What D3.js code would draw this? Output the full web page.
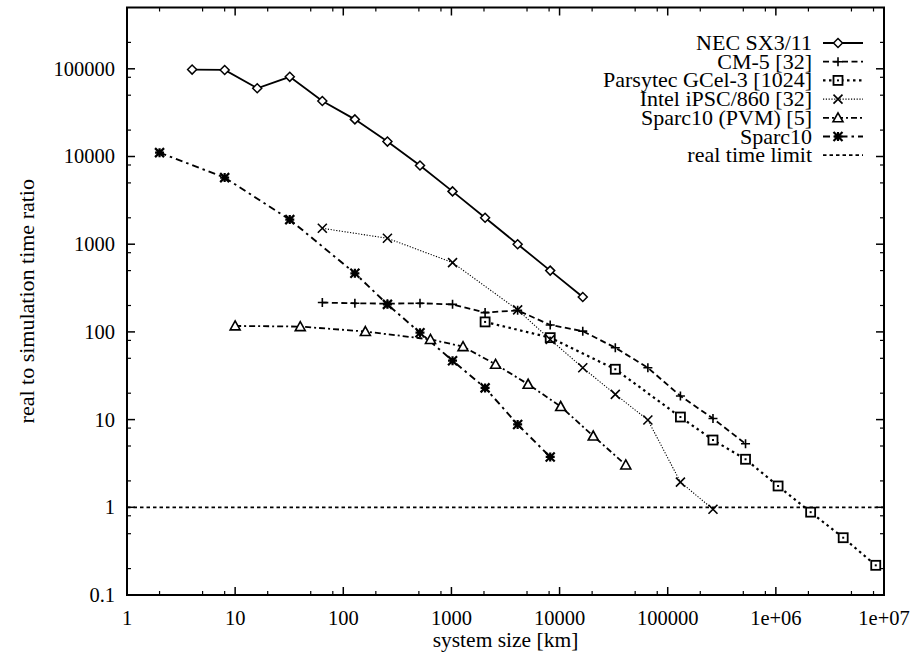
<!DOCTYPE html>
<html><head><meta charset="utf-8">
<script src="https://cdn.jsdelivr.net/npm/d3@7"></script>
<style>
html,body{margin:0;padding:0;background:#fff;}
svg text{font-family:"Liberation Serif","Times New Roman",serif;fill:#000;}
</style></head>
<body><svg id="chart" width="911" height="654"></svg>
<script>
// ---- data ----
const necX   = [4, 8, 16, 32, 64, 128, 256, 512, 1024, 2048, 4096, 8192, 16384];
const necY   = [98000, 97000, 60000, 81000, 43000, 26500, 14800, 7900, 4000, 2000, 1000, 500, 250];
const cm5X   = [64, 128, 256, 512, 1024, 2048, 4096, 8192, 16384, 32768, 65536, 131072, 262144, 524288];
const cm5Y   = [216, 212, 210, 212, 206, 166, 176, 120, 102, 66, 39, 18.6, 10.3, 5.3];
const parsX  = [2048, 8192, 32768, 131072, 262144, 524288, 1048576, 2097152, 4194304, 8388608];
const parsY  = [130, 86, 37.5, 10.7, 5.85, 3.53, 1.75, 0.88, 0.45, 0.218];
const intelX = [64, 256, 1024, 4096, 8192, 16384, 32768, 65536, 131072, 262144];
const intelY = [1518, 1168, 617, 178, 82, 39, 19.4, 9.9, 1.94, 0.95];
const pvmX   = [10, 40, 160, 640, 1280, 2560, 5120, 10240, 20480, 40960];
const pvmY   = [117, 115, 101, 82, 68, 42.7, 25.3, 14.1, 6.5, 3.04];
const sparcX = [2, 8, 32, 128, 256, 512, 1024, 2048, 4096, 8192];
const sparcY = [11070, 5745, 1907, 466, 206, 98, 47, 23, 8.8, 3.75];
const limitY = 1;
const seriesNames = ["NEC SX3/11", "CM-5 [32]", "Parsytec GCel-3 [1024]", "Intel iPSC/860 [32]", "Sparc10 (PVM) [5]", "Sparc10", "real time limit"];
const xTickVals = [1, 10, 100, 1000, 10000, 100000, 1e6, 1e7];
const xTickLabels = ["1", "10", "100", "1000", "10000", "100000", "1e+06", "1e+07"];
const yTickVals = [0.1, 1, 10, 100, 1000, 10000, 100000];
const yTickLabels = ["0.1", "1", "10", "100", "1000", "10000", "100000"];
const xDomain = [1, 1e7];
const yDomain = [0.1, 5e5];
const xLabel = "system size [km]";
const yLabel = "real to simulation time ratio";

// ---- layout ----
const L = 127, R = 884, T = 7.5, B = 595;
const svg = d3.select("#chart");
const x = d3.scaleLog().domain(xDomain).range([L, R]);
const y = d3.scaleLog().domain(yDomain).range([B, T]);

// minor ticks (visible ones in reference: 2,5,8 per decade)
const minorMult = [2, 5, 8];
function minors(dom) {
  const out = [];
  for (let e = Math.floor(Math.log10(dom[0])); e <= Math.ceil(Math.log10(dom[1])); e++) {
    for (const m of minorMult) {
      const v = m * Math.pow(10, e);
      if (v > dom[0] * 1.0001 && v < dom[1] * 0.9999) out.push(v);
    }
  }
  return out;
}
const g = svg.append("g");
const tickColor = "#000";
xTickVals.forEach(v => {
  g.append("line").attr("x1", x(v)).attr("x2", x(v)).attr("y1", B).attr("y2", B - 8).attr("stroke", tickColor).attr("stroke-width", 1.5);
  g.append("line").attr("x1", x(v)).attr("x2", x(v)).attr("y1", T).attr("y2", T + 8).attr("stroke", tickColor).attr("stroke-width", 1.5);
});
minors(xDomain).forEach(v => {
  g.append("line").attr("x1", x(v)).attr("x2", x(v)).attr("y1", B).attr("y2", B - 4).attr("stroke", tickColor).attr("stroke-width", 1.2);
  g.append("line").attr("x1", x(v)).attr("x2", x(v)).attr("y1", T).attr("y2", T + 4).attr("stroke", tickColor).attr("stroke-width", 1.2);
});
yTickVals.forEach(v => {
  g.append("line").attr("x1", L).attr("x2", L + 8).attr("y1", y(v)).attr("y2", y(v)).attr("stroke", tickColor).attr("stroke-width", 1.5);
  g.append("line").attr("x1", R).attr("x2", R - 8).attr("y1", y(v)).attr("y2", y(v)).attr("stroke", tickColor).attr("stroke-width", 1.5);
});
minors(yDomain).forEach(v => {
  g.append("line").attr("x1", L).attr("x2", L + 4).attr("y1", y(v)).attr("y2", y(v)).attr("stroke", tickColor).attr("stroke-width", 1.2);
  g.append("line").attr("x1", R).attr("x2", R - 4).attr("y1", y(v)).attr("y2", y(v)).attr("stroke", tickColor).attr("stroke-width", 1.2);
});
g.append("rect").attr("x", L).attr("y", T).attr("width", R - L).attr("height", B - T)
  .attr("fill", "none").attr("stroke", "#000").attr("stroke-width", 2);

// tick labels
xTickVals.forEach((v, i) => {
  g.append("text").attr("x", x(v)).attr("y", 625).attr("text-anchor", "middle")
    .attr("font-size", 20.5).text(xTickLabels[i]);
});
yTickVals.forEach((v, i) => {
  g.append("text").attr("x", 115).attr("y", y(v) + 7).attr("text-anchor", "end")
    .attr("font-size", 20.5).text(yTickLabels[i]);
});
// axis titles
g.append("text").attr("x", (L + R) / 2).attr("y", 647).attr("text-anchor", "middle")
  .attr("font-size", 21.5).text(xLabel);
g.append("text").attr("transform", `translate(34,${(T + B) / 2}) rotate(-90)`)
  .attr("text-anchor", "middle").attr("font-size", 22).text(yLabel);

// ---- markers ----
function drawMarker(sel, type, cx, cy) {
  const s = 4.5;
  if (type === "diamond") {
    sel.append("path").attr("d", `M${cx - s},${cy}L${cx},${cy - s}L${cx + s},${cy}L${cx},${cy + s}Z`)
      .attr("fill", "#fff").attr("stroke", "#000").attr("stroke-width", 1.5);
  } else if (type === "plus") {
    sel.append("path").attr("d", `M${cx - s},${cy}H${cx + s}M${cx},${cy - s}V${cy + s}`)
      .attr("stroke", "#000").attr("stroke-width", 1.6).attr("fill", "none");
  } else if (type === "square") {
    sel.append("rect").attr("x", cx - 4.5).attr("y", cy - 4.5).attr("width", 9).attr("height", 9)
      .attr("fill", "#fff").attr("stroke", "#000").attr("stroke-width", 1.8);
    sel.append("rect").attr("x", cx - 1).attr("y", cy - 1).attr("width", 2).attr("height", 2).attr("fill", "#000");
  } else if (type === "cross") {
    sel.append("path").attr("d", `M${cx - s},${cy - s}L${cx + s},${cy + s}M${cx - s},${cy + s}L${cx + s},${cy - s}`)
      .attr("stroke", "#000").attr("stroke-width", 1.6).attr("fill", "none");
  } else if (type === "triangle") {
    sel.append("path").attr("d", `M${cx},${cy - 5}L${cx + 5},${cy + 4}L${cx - 5},${cy + 4}Z`)
      .attr("fill", "#fff").attr("stroke", "#000").attr("stroke-width", 1.6);
  } else if (type === "star") {
    sel.append("path").attr("d", `M${cx - s},${cy}H${cx + s}M${cx},${cy - s}V${cy + s}M${cx - s},${cy - s}L${cx + s},${cy + s}M${cx - s},${cy + s}L${cx + s},${cy - s}`)
      .attr("stroke", "#000").attr("stroke-width", 2.2).attr("fill", "none");
  }
}

const series = [
  { xs: necX,   ys: necY,   marker: "diamond",  dash: null,        w: 1.8 },
  { xs: cm5X,   ys: cm5Y,   marker: "plus",     dash: "6,3.5",     w: 1.8 },
  { xs: parsX,  ys: parsY,  marker: "square",   dash: "2.5,3.5",   w: 2.2 },
  { xs: intelX, ys: intelY, marker: "cross",    dash: "1.2,1.6",   w: 1.1 },
  { xs: pvmX,   ys: pvmY,   marker: "triangle", dash: "6,3,2,3",   w: 1.8 },
  { xs: sparcX, ys: sparcY, marker: "star",     dash: "7,4,2.5,4", w: 1.9 }
];

g.append("line").attr("x1", L).attr("x2", R).attr("y1", y(limitY)).attr("y2", y(limitY))
  .attr("stroke", "#000").attr("stroke-width", 1.8).attr("stroke-dasharray", "3.5,3");

const line = d3.line().x(d => x(d[0])).y(d => y(d[1]));
series.forEach(s => {
  const pts = s.xs.map((v, i) => [v, s.ys[i]]);
  const p = g.append("path").attr("d", line(pts)).attr("fill", "none")
    .attr("stroke", "#000").attr("stroke-width", s.w);
  if (s.dash) p.attr("stroke-dasharray", s.dash);
});
series.forEach(s => {
  s.xs.forEach((v, i) => drawMarker(g.append("g"), s.marker, x(v), y(s.ys[i])));
});

// ---- legend ----
const legY0 = 43, legDy = 18.7;
const legTextX = 812, legL = 823, legR = 863;
seriesNames.forEach((name, i) => {
  const cy = legY0 + i * legDy;
  g.append("text").attr("x", legTextX).attr("y", cy + 7).attr("text-anchor", "end")
    .attr("font-size", 22).text(name);
  const s = series[i];
  const ln = g.append("line").attr("x1", legL).attr("x2", legR).attr("y1", cy).attr("y2", cy)
    .attr("stroke", "#000");
  if (s) {
    ln.attr("stroke-width", s.w);
    if (s.dash) ln.attr("stroke-dasharray", s.dash);
    drawMarker(g.append("g"), s.marker, (legL + legR) / 2 - 5, cy);
  } else {
    ln.attr("stroke-width", 1.8).attr("stroke-dasharray", "3.5,3");
  }
});
</script></body></html>
